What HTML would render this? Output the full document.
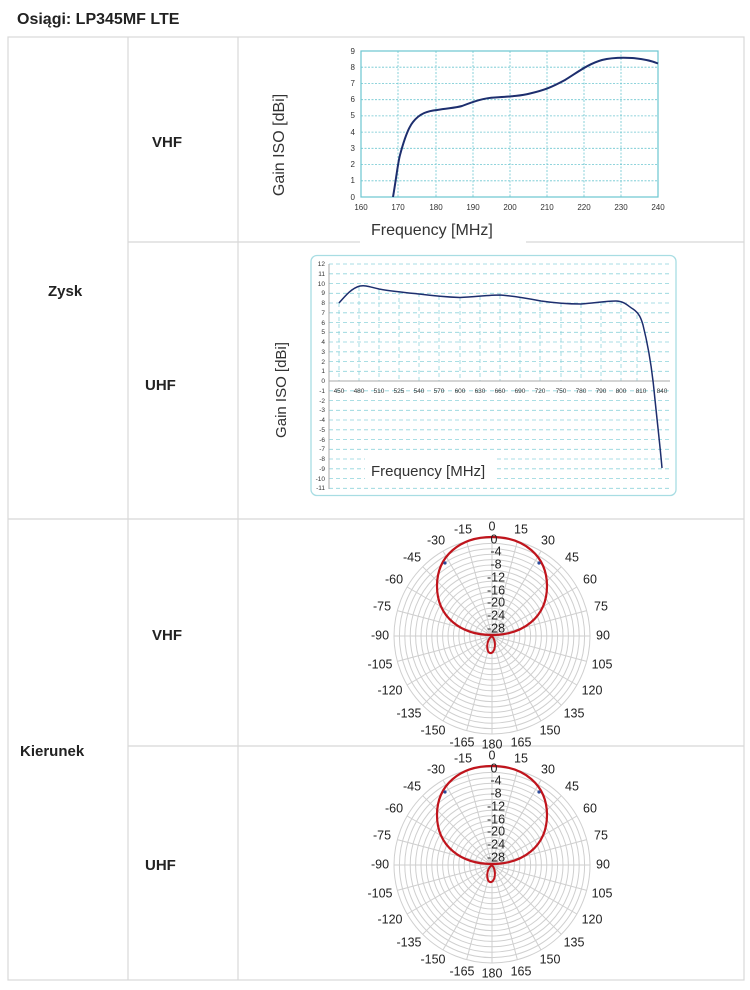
<!DOCTYPE html>
<html><head><meta charset="utf-8"><style>
html,body{margin:0;padding:0;background:#fff;}
svg{display:block;font-family:"Liberation Sans",sans-serif;}
</style></head><body>
<svg width="750" height="990" viewBox="0 0 750 990" xmlns="http://www.w3.org/2000/svg">
<defs>
<g id="pg" fill="none" stroke="#cfcfcf" stroke-width="1">
<circle r="98"/><circle r="92.6"/><circle r="87.2"/><circle r="81.8"/><circle r="76.4"/><circle r="71"/><circle r="65.6"/><circle r="60.2"/><circle r="54.8"/><circle r="49.4"/><circle r="44"/><circle r="38.6"/><circle r="33.2"/><circle r="27.8"/><circle r="22.4"/><circle r="17"/><circle r="11.6"/><circle r="6.2"/>
<line x1="0" y1="-98" x2="0" y2="98"/>
<line x1="0" y1="-98" x2="0" y2="98" transform="rotate(15)"/>
<line x1="0" y1="-98" x2="0" y2="98" transform="rotate(30)"/>
<line x1="0" y1="-98" x2="0" y2="98" transform="rotate(45)"/>
<line x1="0" y1="-98" x2="0" y2="98" transform="rotate(60)"/>
<line x1="0" y1="-98" x2="0" y2="98" transform="rotate(75)"/>
<line x1="0" y1="-98" x2="0" y2="98" transform="rotate(90)"/>
<line x1="0" y1="-98" x2="0" y2="98" transform="rotate(105)"/>
<line x1="0" y1="-98" x2="0" y2="98" transform="rotate(120)"/>
<line x1="0" y1="-98" x2="0" y2="98" transform="rotate(135)"/>
<line x1="0" y1="-98" x2="0" y2="98" transform="rotate(150)"/>
<line x1="0" y1="-98" x2="0" y2="98" transform="rotate(165)"/>
</g>
<g id="pat">
<path d="M0,-1 C-30,-1 -55,-18 -55,-50 C-55,-80 -32,-99 0,-99 C32,-99 55,-80 55,-50 C55,-18 30,-1 0,-1 Z" fill="none" stroke="#c0141c" stroke-width="2.2"/>
<path d="M0,0 C-6,4 -6,16 -2,17 C3,18 5,6 0,0 Z" fill="none" stroke="#c0141c" stroke-width="2"/>
<circle cx="-47" cy="-73" r="1.6" fill="#2a4a9a"/><circle cx="47" cy="-73" r="1.6" fill="#2a4a9a"/>
</g>
</defs>

<text x="17" y="24" font-size="16" font-weight="bold" fill="#222">Osiągi: LP345MF LTE</text>

<g stroke="#d8d8d8" stroke-width="1.2" fill="none">
<rect x="8" y="37" width="736" height="943"/>
<line x1="128" y1="37" x2="128" y2="980"/>
<line x1="238" y1="37" x2="238" y2="980"/>
<line x1="128" y1="242" x2="744" y2="242"/>
<line x1="8" y1="519" x2="744" y2="519"/>
<line x1="128" y1="746" x2="744" y2="746"/>
</g>
<rect x="360" y="238" width="166" height="8" fill="#fff"/>
<g font-size="15" font-weight="bold" fill="#222">
<text x="48" y="296">Zysk</text>
<text x="20" y="756">Kierunek</text>
<text x="152" y="147">VHF</text>
<text x="145" y="390">UHF</text>
<text x="152" y="640">VHF</text>
<text x="145" y="870">UHF</text>
</g>

<g stroke="#6cc6d0" stroke-width="0.8" stroke-dasharray="2,1.5" fill="none">
<line x1="361" y1="67.2" x2="658" y2="67.2"/><line x1="361" y1="83.4" x2="658" y2="83.4"/><line x1="361" y1="99.7" x2="658" y2="99.7"/><line x1="361" y1="115.9" x2="658" y2="115.9"/><line x1="361" y1="132.1" x2="658" y2="132.1"/><line x1="361" y1="148.3" x2="658" y2="148.3"/><line x1="361" y1="164.6" x2="658" y2="164.6"/><line x1="361" y1="180.8" x2="658" y2="180.8"/>
<line x1="398" y1="51" x2="398" y2="197"/><line x1="436" y1="51" x2="436" y2="197"/><line x1="473" y1="51" x2="473" y2="197"/><line x1="510" y1="51" x2="510" y2="197"/><line x1="547" y1="51" x2="547" y2="197"/><line x1="584" y1="51" x2="584" y2="197"/><line x1="621" y1="51" x2="621" y2="197"/>
</g>
<rect x="361" y="51" width="297" height="146" fill="none" stroke="#6cc6d0" stroke-width="1.2"/>
<g font-size="8" fill="#333" text-anchor="end">
<text x="355" y="54">9</text><text x="355" y="70">8</text><text x="355" y="86">7</text><text x="355" y="102">6</text><text x="355" y="118">5</text><text x="355" y="135">4</text><text x="355" y="151">3</text><text x="355" y="167">2</text><text x="355" y="183">1</text><text x="355" y="200">0</text>
</g>
<g font-size="8" fill="#333" text-anchor="middle">
<text x="361" y="210">160</text><text x="398" y="210">170</text><text x="436" y="210">180</text><text x="473" y="210">190</text><text x="510" y="210">200</text><text x="547" y="210">210</text><text x="584" y="210">220</text><text x="621" y="210">230</text><text x="658" y="210">240</text>
</g>
<path d="M393,197 C396,180 398,162 400,155 C404,140 408,128 413,122 C420,113 428,111 437,110 C448,108 455,108 462,106 C475,101 484,98 495,97.5 C510,96.5 520,96 530,93.5 C545,90 552,87 565,80 C578,72 588,64 602,60 C612,57.5 622,57.5 632,58 C645,59 652,61 658,63.5" fill="none" stroke="#1d2e6e" stroke-width="2"/>
<text transform="translate(284,145) rotate(-90)" font-size="16" fill="#333" text-anchor="middle">Gain ISO [dBi]</text>
<text x="371" y="235" font-size="16" fill="#333">Frequency [MHz]</text>

<rect x="311" y="255.5" width="365" height="240" rx="6" fill="#fff" stroke="#a8dde3" stroke-width="1.3"/>
<g stroke="#8fd4dc" stroke-width="0.8" stroke-dasharray="4,3" fill="none">
<line x1="329" y1="264" x2="670" y2="264"/><line x1="329" y1="273.8" x2="670" y2="273.8"/><line x1="329" y1="283.5" x2="670" y2="283.5"/><line x1="329" y1="293.3" x2="670" y2="293.3"/><line x1="329" y1="303" x2="670" y2="303"/><line x1="329" y1="312.8" x2="670" y2="312.8"/><line x1="329" y1="322.5" x2="670" y2="322.5"/><line x1="329" y1="332.3" x2="670" y2="332.3"/><line x1="329" y1="342" x2="670" y2="342"/><line x1="329" y1="351.8" x2="670" y2="351.8"/><line x1="329" y1="361.5" x2="670" y2="361.5"/><line x1="329" y1="371.3" x2="670" y2="371.3"/>
<line x1="329" y1="390.8" x2="670" y2="390.8"/><line x1="329" y1="400.5" x2="670" y2="400.5"/><line x1="329" y1="410.3" x2="670" y2="410.3"/><line x1="329" y1="420" x2="670" y2="420"/><line x1="329" y1="429.8" x2="670" y2="429.8"/><line x1="329" y1="439.5" x2="670" y2="439.5"/><line x1="329" y1="449.3" x2="670" y2="449.3"/><line x1="329" y1="459" x2="670" y2="459"/><line x1="329" y1="468.8" x2="670" y2="468.8"/><line x1="329" y1="478.5" x2="670" y2="478.5"/><line x1="329" y1="488.3" x2="670" y2="488.3"/>
<line x1="339" y1="303" x2="339" y2="381"/><line x1="359" y1="287" x2="359" y2="381"/><line x1="379" y1="289" x2="379" y2="381"/><line x1="399" y1="291" x2="399" y2="381"/><line x1="419" y1="293" x2="419" y2="381"/><line x1="439" y1="296" x2="439" y2="381"/><line x1="460" y1="297" x2="460" y2="381"/><line x1="480" y1="296" x2="480" y2="381"/><line x1="500" y1="295" x2="500" y2="381"/><line x1="520" y1="297" x2="520" y2="381"/><line x1="540" y1="300" x2="540" y2="381"/><line x1="561" y1="303" x2="561" y2="381"/><line x1="581" y1="304" x2="581" y2="381"/><line x1="601" y1="302" x2="601" y2="381"/><line x1="621" y1="301" x2="621" y2="381"/><line x1="637" y1="315" x2="637" y2="381"/>
</g>
<line x1="329" y1="264" x2="329" y2="489" stroke="#aaa" stroke-width="1"/>
<line x1="329" y1="381" x2="670" y2="381" stroke="#aaa" stroke-width="1"/>
<g font-size="6.5" fill="#333" text-anchor="end">
<text x="325" y="266">12</text><text x="325" y="276">11</text><text x="325" y="286">10</text><text x="325" y="295">9</text><text x="325" y="305">8</text><text x="325" y="315">7</text><text x="325" y="325">6</text><text x="325" y="334">5</text><text x="325" y="344">4</text><text x="325" y="354">3</text><text x="325" y="364">2</text><text x="325" y="373">1</text><text x="325" y="383">0</text><text x="325" y="393">-1</text><text x="325" y="403">-2</text><text x="325" y="412">-3</text><text x="325" y="422">-4</text><text x="325" y="432">-5</text><text x="325" y="442">-6</text><text x="325" y="451">-7</text><text x="325" y="461">-8</text><text x="325" y="471">-9</text><text x="325" y="481">-10</text><text x="325" y="490">-11</text>
</g>
<g font-size="6.5" fill="#333" text-anchor="middle">
<text x="339" y="393">450</text><text x="359" y="393">480</text><text x="379" y="393">510</text><text x="399" y="393">525</text><text x="419" y="393">540</text><text x="439" y="393">570</text><text x="460" y="393">600</text><text x="480" y="393">630</text><text x="500" y="393">660</text><text x="520" y="393">690</text><text x="540" y="393">720</text><text x="561" y="393">750</text><text x="581" y="393">780</text><text x="601" y="393">790</text><text x="621" y="393">800</text><text x="641" y="393">810</text><text x="662" y="393">840</text>
</g>
<path d="M339,303 C346,295 352,288 360,286 C366,285 370,287 379,289 C390,291 400,292 419,294 C435,296 445,297 460,297.5 C475,297 488,295 500,295 C512,296 525,298 541,301 C555,303 568,304 581,304 C595,303 605,301 616,301 C624,301 628,306 633,309 C639,313 641,318 643,325 C648,345 652,370 654,390 C657,420 660,445 662,468" fill="none" stroke="#1d2e6e" stroke-width="1.5"/>
<rect x="365" y="456" width="130" height="24" fill="#fff"/>
<text x="371" y="476" font-size="15" fill="#333">Frequency [MHz]</text>
<text transform="translate(286,390) rotate(-90)" font-size="15" fill="#333" text-anchor="middle">Gain ISO [dBi]</text>

<g transform="translate(492,636)">
<use href="#pg"/><use href="#pat"/>
<g font-size="12.5" fill="#222" text-anchor="middle" dominant-baseline="middle">
<text x="0" y="-109">0</text><text x="29" y="-106">15</text><text x="56" y="-95">30</text><text x="80" y="-78">45</text><text x="98" y="-56">60</text><text x="109" y="-29">75</text><text x="111" y="0">90</text><text x="110" y="29">105</text><text x="100" y="55">120</text><text x="82" y="78">135</text><text x="58" y="95">150</text><text x="29" y="107">165</text><text x="0" y="109">180</text>
<text x="-29" y="-106">-15</text><text x="-56" y="-95">-30</text><text x="-80" y="-78">-45</text><text x="-98" y="-56">-60</text><text x="-110" y="-29">-75</text><text x="-112" y="0">-90</text><text x="-112" y="29">-105</text><text x="-102" y="55">-120</text><text x="-83" y="78">-135</text><text x="-59" y="95">-150</text><text x="-30" y="107">-165</text>
<text x="2" y="-96">0</text><text x="4" y="-84">-4</text><text x="4" y="-71">-8</text><text x="4" y="-58">-12</text><text x="4" y="-45">-16</text><text x="4" y="-33">-20</text><text x="4" y="-20">-24</text><text x="4" y="-7">-28</text>
</g>
</g>
<g transform="translate(492,865)">
<use href="#pg"/><use href="#pat"/>
<g font-size="12.5" fill="#222" text-anchor="middle" dominant-baseline="middle">
<text x="0" y="-109">0</text><text x="29" y="-106">15</text><text x="56" y="-95">30</text><text x="80" y="-78">45</text><text x="98" y="-56">60</text><text x="109" y="-29">75</text><text x="111" y="0">90</text><text x="110" y="29">105</text><text x="100" y="55">120</text><text x="82" y="78">135</text><text x="58" y="95">150</text><text x="29" y="107">165</text><text x="0" y="109">180</text>
<text x="-29" y="-106">-15</text><text x="-56" y="-95">-30</text><text x="-80" y="-78">-45</text><text x="-98" y="-56">-60</text><text x="-110" y="-29">-75</text><text x="-112" y="0">-90</text><text x="-112" y="29">-105</text><text x="-102" y="55">-120</text><text x="-83" y="78">-135</text><text x="-59" y="95">-150</text><text x="-30" y="107">-165</text>
<text x="2" y="-96">0</text><text x="4" y="-84">-4</text><text x="4" y="-71">-8</text><text x="4" y="-58">-12</text><text x="4" y="-45">-16</text><text x="4" y="-33">-20</text><text x="4" y="-20">-24</text><text x="4" y="-7">-28</text>
</g>
</g>
</svg>
</body></html>
